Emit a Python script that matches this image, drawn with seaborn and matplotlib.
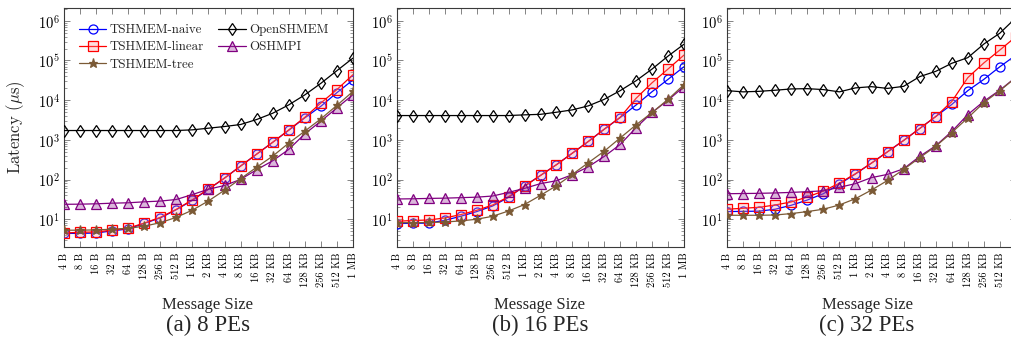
import numpy as np
import pandas as pd
import matplotlib
matplotlib.use("Agg")
import matplotlib.pyplot as plt
import seaborn as sns
from matplotlib.ticker import FixedLocator, LogLocator, FuncFormatter, NullFormatter

# Message sizes on the x axis
sizes = ["4 B", "8 B", "16 B", "32 B", "64 B", "128 B", "256 B", "512 B",
         "1 KB", "2 KB", "4 KB", "8 KB", "16 KB", "32 KB", "64 KB",
         "128 KB", "256 KB", "512 KB", "1 MB"]

implementations = ["TSHMEM-naive", "TSHMEM-linear", "TSHMEM-tree", "OpenSHMEM", "OSHMPI"]
panel_titles = ["(a) 8 PEs", "(b) 16 PEs", "(c) 32 PEs"]

# Broadcast latency (microseconds), 8 PEs
naive_8 = [4.4, 4.4, 4.5, 5.1, 5.7, 7.9, 10.8, 17.5, 30, 57, 109, 219, 437, 870, 1750, 3590, 7030, 15500, 32400]
linear_8 = [4.5, 4.7, 4.8, 5.3, 6.0, 8.0, 11.2, 17.8, 31, 58, 109, 219, 437, 870, 1780, 3700, 8500, 18500, 44000]
tree_8 = [5.3, 5.3, 5.4, 5.6, 5.9, 6.7, 8.2, 11.2, 17, 29, 54, 105, 205, 390, 830, 1660, 3390, 7410, 16600]
openshmem_8 = [1720, 1720, 1720, 1720, 1720, 1720, 1720, 1720, 1790, 1970, 2170, 2440, 3260, 4690, 7620, 13600, 26600, 55500, 115000]
oshmpi_8 = [23.8, 24, 24.5, 25.4, 26, 27.5, 28.7, 31.5, 42, 57, 71, 101, 177, 298, 575, 1420, 2960, 6400, 13800]

# 16 PEs
naive_16 = [7.8, 7.9, 8.0, 9.4, 11.9, 15.6, 21.6, 35.7, 69, 127, 237, 463, 912, 1860, 3650, 7600, 16400, 33500, 69800]
linear_16 = [8.9, 9.3, 9.6, 10.8, 13.1, 16.8, 22.9, 37, 68, 127, 237, 463, 912, 1860, 3720, 11200, 27500, 61000, 137000]
tree_16 = [8.2, 8.2, 8.3, 8.5, 9.1, 10, 11.9, 16.2, 23.5, 40, 70, 135, 266, 520, 1120, 2400, 4900, 10500, 24600]
openshmem_16 = [4100, 4100, 4100, 4100, 4100, 4100, 4100, 4100, 4270, 4400, 4970, 5700, 7190, 10500, 17400, 31000, 61000, 129000, 257000]
oshmpi_16 = [32.4, 32.8, 33.5, 34, 35, 36, 38.5, 47.6, 60, 79, 93.5, 133, 210, 383, 766, 2040, 4900, 10000, 22000]

# 32 PEs
naive_32 = [15.6, 15.8, 16, 17.9, 22.5, 30.5, 44, 77, 138, 260, 501, 966, 1930, 3870, 7800, 17400, 33500, 69800, 137000]
linear_32 = [17.9, 18.9, 20, 22.9, 27.3, 36.3, 51.4, 81, 141, 260, 501, 966, 1930, 3870, 9230, 37000, 87000, 184000, 400000]
tree_32 = [12.6, 12.6, 12.6, 12.8, 13.9, 15.6, 17.9, 22.9, 33, 54.5, 95, 180, 355, 690, 1530, 3590, 8700, 17400, 37600]
openshmem_32 = [17400, 16200, 16700, 17800, 19200, 19500, 18500, 16200, 20400, 21900, 19800, 22300, 39200, 53200, 85000, 118000, 260000, 490000, 1200000]
oshmpi_32 = [44, 44.5, 45, 46, 47.5, 49.5, 52, 63.7, 79, 112, 135, 187, 383, 710, 1630, 4340, 9400, 18000, 38000]

panels = [
    [naive_8, linear_8, tree_8, openshmem_8, oshmpi_8],
    [naive_16, linear_16, tree_16, openshmem_16, oshmpi_16],
    [naive_32, linear_32, tree_32, openshmem_32, oshmpi_32],
]

# Line styles per implementation
styles = {
    "TSHMEM-naive": dict(color="#0000ff", marker="o", markersize=6.5, markerfacecolor="none",
                         markeredgecolor="#0000ff", zorder=3),
    "TSHMEM-linear": dict(color="#ff0000", marker="s", markersize=6.5, markerfacecolor=(1, 0.6, 0.6, 0.3),
                          markeredgecolor="#ff0000", zorder=5),
    "TSHMEM-tree": dict(color="#7b5a36", marker="*", markersize=6.5, markerfacecolor="#7b5a36",
                        markeredgecolor="#7b5a36", zorder=7),
    "OpenSHMEM": dict(color="black", marker="d", markersize=6.5, markerfacecolor="none",
                      markeredgecolor="black", zorder=4),
    "OSHMPI": dict(color="#800080", marker="^", markersize=6.5, markerfacecolor=(0.6, 0.2, 0.6, 0.35),
                   markeredgecolor="#800080", zorder=6),
}

sns.set_style("ticks")
plt.rcParams.update({
    "font.family": ["cmr10", "DejaVu Serif"],
    "mathtext.fontset": "cm",
    "axes.unicode_minus": False,
    "axes.edgecolor": "#3a3a3a",
    "axes.linewidth": 0.8,
    "xtick.color": "#707070",
    "ytick.color": "#707070",
    "xtick.labelcolor": "black",
    "ytick.labelcolor": "black",
})

W, H = 1011, 341
fig = plt.figure(figsize=(W / 100, H / 100), dpi=100)

# axes boxes in pixels: left, top, width, height
boxes = [(64, 8, 289, 239), (397, 8, 287, 239), (727, 8, 289, 239)]
caption_x = [208, 540, 867]

idx = np.arange(len(sizes))

for p, (box, series) in enumerate(zip(boxes, panels)):
    l, t, w, h = box
    ax = fig.add_axes([l / W, 1 - (t + h) / H, w / W, h / H])
    df = pd.DataFrame({
        "pos": np.tile(idx, len(implementations)),
        "latency": np.concatenate([np.asarray(s, float) for s in series]),
        "impl": np.repeat(implementations, len(sizes)),
    })
    for name in ["TSHMEM-naive", "OpenSHMEM", "TSHMEM-linear", "OSHMPI", "TSHMEM-tree"]:
        st = dict(styles[name])
        sns.lineplot(data=df[df["impl"] == name], x="pos", y="latency", ax=ax,
                     linewidth=0.9, markeredgewidth=0.9, label=name, legend=False,
                     clip_on=True, **st)
    ax.set_yscale("log")
    ax.set_ylim(2, 2.1e6)
    ax.set_xlim(0, len(sizes) - 1)
    ax.xaxis.set_major_locator(FixedLocator(idx))
    # the last panel runs past the right edge of the figure, so its 1 MB label is not drawn
    tick_text = sizes if p < 2 else sizes[:-1] + [""]
    ax.set_xticklabels(tick_text, rotation=90, fontsize=7.5)
    ax.yaxis.set_major_locator(LogLocator(base=10, numticks=10))
    ax.yaxis.set_minor_locator(LogLocator(base=10, subs=np.arange(2, 10), numticks=20))
    ax.yaxis.set_major_formatter(FuncFormatter(lambda v, _: r"$10^{%d}$" % round(np.log10(v))))
    ax.yaxis.set_minor_formatter(NullFormatter())
    ax.tick_params(axis="both", which="both", direction="in", top=True, right=True)
    ax.tick_params(axis="both", which="major", length=4, width=0.6)
    ax.tick_params(axis="y", which="minor", length=2, width=0.5)
    ax.tick_params(axis="y", which="major", labelsize=10.5, pad=3)
    ax.tick_params(axis="x", which="major", pad=4)
    ax.set_xlabel("")
    ax.set_ylabel("")
    for s in ax.spines.values():
        s.set_visible(True)

    fig.text(caption_x[p] / W, 1 - 305 / H, "Message Size", ha="center", va="center",
             family="Liberation Serif", fontsize=12)
    fig.text(caption_x[p] / W, 1 - 325 / H, panel_titles[p], ha="center", va="center",
             family="Liberation Serif", fontsize=16.5)

    if p == 0:
        handles, labels = ax.get_legend_handles_labels()
        order = [labels.index(n) for n in implementations]
        ax.legend([handles[i] for i in order], [labels[i] for i in order],
                  ncol=2, loc="upper left", bbox_to_anchor=(15 / w, 1 - 16 / h),
                  frameon=False, fontsize=9.3, handlelength=2.1, handletextpad=0.3,
                  columnspacing=1.1, labelspacing=0.4, borderpad=0, borderaxespad=0)

fig.text(16 / W, 1 - 127.5 / H, r"Latency ($\mu$s)", rotation=90, ha="center", va="center",
         fontsize=12)

fig.savefig("out.png", dpi=100)
